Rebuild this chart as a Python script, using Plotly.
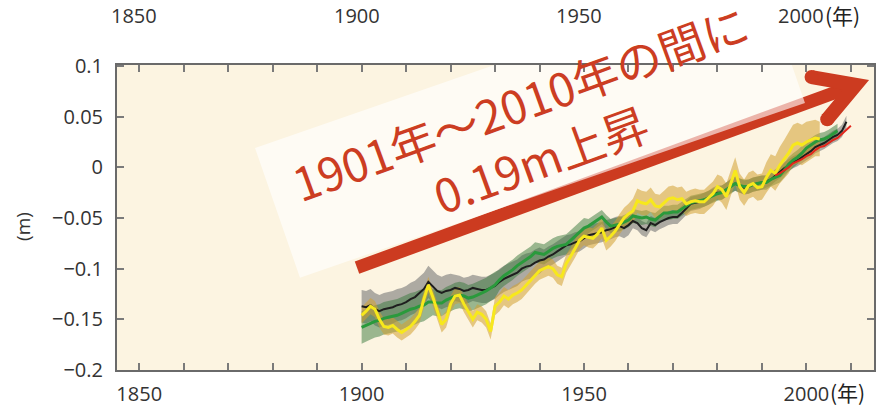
import plotly.graph_objects as go

# ---- sea-level series (m) ----
yellow_years = list(range(1900, 2004))
yellow_vals = [
    -0.146, -0.142, -0.137, -0.140, -0.150, -0.157, -0.158, -0.156, -0.160, -0.163,
    -0.160, -0.157, -0.152, -0.146, -0.130, -0.116, -0.128, -0.142, -0.155, -0.150,
    -0.135, -0.127, -0.126, -0.135, -0.143, -0.150, -0.143, -0.145, -0.150, -0.162,
    -0.137, -0.133, -0.127, -0.130, -0.126, -0.124, -0.121, -0.116, -0.111, -0.106,
    -0.102, -0.100, -0.098, -0.100, -0.106, -0.108, -0.095, -0.088, -0.080, -0.072,
    -0.068, -0.069, -0.070, -0.066, -0.060, -0.072, -0.068, -0.063, -0.056, -0.050,
    -0.046, -0.043, -0.033, -0.035, -0.036, -0.032, -0.038, -0.039, -0.035, -0.031,
    -0.030, -0.032, -0.031, -0.036, -0.034, -0.033, -0.034, -0.034, -0.030, -0.026,
    -0.019, -0.022, -0.029, -0.015, -0.003, -0.019, -0.025, -0.018, -0.016, -0.020,
    -0.019, -0.010, -0.003, -0.006, 0.002, 0.008, 0.014, 0.022, 0.024, 0.022,
    0.025, 0.027, 0.029, 0.028,
]
yellow_err = [
    0.008, 0.008, 0.008, 0.008, 0.008, 0.008, 0.008, 0.008, 0.008, 0.008,
    0.008, 0.008, 0.008, 0.008, 0.008, 0.008, 0.008, 0.008, 0.008, 0.008,
    0.008, 0.008, 0.008, 0.008, 0.008, 0.008, 0.008, 0.008, 0.008, 0.008,
    0.009, 0.009, 0.009, 0.009, 0.009, 0.009, 0.009, 0.009, 0.009, 0.009,
    0.009, 0.009, 0.009, 0.009, 0.009, 0.009, 0.009, 0.009, 0.009, 0.009,
    0.009, 0.010, 0.010, 0.010, 0.010, 0.010, 0.010, 0.010, 0.010, 0.010,
    0.010, 0.012, 0.012, 0.012, 0.012, 0.012, 0.012, 0.012, 0.012, 0.012,
    0.012, 0.012, 0.012, 0.012, 0.012, 0.012, 0.012, 0.012, 0.012, 0.012,
    0.012, 0.013, 0.013, 0.013, 0.013, 0.013, 0.013, 0.013, 0.013, 0.013,
    0.013, 0.015, 0.016, 0.017, 0.018, 0.019, 0.020, 0.020, 0.020, 0.020,
    0.020, 0.019, 0.018, 0.017,
]

black_years = list(range(1900, 2010))
black_vals = [
    -0.137, -0.138, -0.136, -0.140, -0.142, -0.140, -0.139, -0.138, -0.136, -0.135,
    -0.133, -0.130, -0.128, -0.124, -0.120, -0.113, -0.118, -0.122, -0.124, -0.122,
    -0.121, -0.119, -0.120, -0.122, -0.121, -0.119, -0.120, -0.121, -0.121, -0.119,
    -0.117, -0.113, -0.110, -0.108, -0.106, -0.104, -0.100, -0.098, -0.097, -0.094,
    -0.092, -0.091, -0.088, -0.086, -0.083, -0.080, -0.077, -0.076, -0.074, -0.073,
    -0.070, -0.067, -0.066, -0.065, -0.064, -0.062, -0.061, -0.059, -0.058, -0.060,
    -0.057, -0.053, -0.055, -0.060, -0.062, -0.055, -0.057, -0.054, -0.052, -0.050,
    -0.049, -0.049, -0.045, -0.040, -0.036, -0.035, -0.034, -0.032, -0.030, -0.027,
    -0.025, -0.025, -0.022, -0.018, -0.016, -0.018, -0.020, -0.019, -0.017, -0.016,
    -0.015, -0.014, -0.012, -0.008, -0.005, -0.001, 0.002, 0.005, 0.007, 0.010,
    0.013, 0.016, 0.020, 0.022, 0.024, 0.027, 0.030, 0.032, 0.036, 0.045,
]
black_err = [
    0.016, 0.016, 0.016, 0.016, 0.016, 0.016, 0.016, 0.016, 0.016, 0.016,
    0.016, 0.016, 0.016, 0.016, 0.016, 0.016, 0.016, 0.016, 0.016, 0.016,
    0.016, 0.013, 0.013, 0.013, 0.013, 0.013, 0.013, 0.013, 0.013, 0.013,
    0.013, 0.013, 0.013, 0.013, 0.013, 0.013, 0.013, 0.013, 0.013, 0.013,
    0.013, 0.010, 0.010, 0.010, 0.010, 0.010, 0.010, 0.010, 0.010, 0.010,
    0.010, 0.010, 0.010, 0.010, 0.010, 0.010, 0.010, 0.010, 0.010, 0.010,
    0.010, 0.007, 0.007, 0.007, 0.007, 0.007, 0.007, 0.007, 0.007, 0.007,
    0.007, 0.007, 0.007, 0.007, 0.007, 0.007, 0.007, 0.007, 0.007, 0.007,
    0.007, 0.007, 0.007, 0.007, 0.007, 0.007, 0.007, 0.007, 0.007, 0.007,
    0.007, 0.006, 0.006, 0.006, 0.006, 0.006, 0.006, 0.006, 0.006, 0.006,
    0.006, 0.006, 0.006, 0.006, 0.006, 0.006, 0.006, 0.006, 0.006, 0.006,
]

green_years = list(range(1900, 2008))
green_vals = [
    -0.158, -0.156, -0.154, -0.152, -0.151, -0.149, -0.148, -0.147, -0.146, -0.144,
    -0.142, -0.140, -0.139, -0.137, -0.136, -0.133, -0.133, -0.134, -0.134, -0.131,
    -0.129, -0.127, -0.126, -0.127, -0.129, -0.128, -0.126, -0.124, -0.122, -0.119,
    -0.116, -0.111, -0.107, -0.104, -0.101, -0.097, -0.094, -0.091, -0.088, -0.084,
    -0.085, -0.086, -0.083, -0.080, -0.078, -0.077, -0.076, -0.072, -0.068, -0.064,
    -0.060, -0.058, -0.055, -0.052, -0.049, -0.054, -0.058, -0.057, -0.056, -0.054,
    -0.052, -0.048, -0.049, -0.050, -0.049, -0.051, -0.052, -0.048, -0.045, -0.045,
    -0.044, -0.044, -0.041, -0.038, -0.035, -0.034, -0.033, -0.032, -0.030, -0.028,
    -0.026, -0.025, -0.022, -0.019, -0.016, -0.018, -0.019, -0.019, -0.017, -0.016,
    -0.015, -0.015, -0.012, -0.010, -0.008, -0.003, 0.003, 0.007, 0.010, 0.014,
    0.019, 0.022, 0.025, 0.027, 0.028, 0.030, 0.033, 0.036,
]
green_err = [
    0.016, 0.016, 0.016, 0.016, 0.016, 0.016, 0.016, 0.016, 0.016, 0.016,
    0.016, 0.016, 0.016, 0.016, 0.016, 0.016, 0.013, 0.013, 0.013, 0.013,
    0.013, 0.013, 0.013, 0.013, 0.013, 0.013, 0.013, 0.013, 0.013, 0.013,
    0.013, 0.010, 0.010, 0.010, 0.010, 0.010, 0.010, 0.010, 0.010, 0.010,
    0.010, 0.010, 0.010, 0.010, 0.010, 0.010, 0.010, 0.010, 0.010, 0.010,
    0.010, 0.007, 0.007, 0.007, 0.007, 0.007, 0.007, 0.007, 0.007, 0.007,
    0.007, 0.007, 0.007, 0.007, 0.007, 0.007, 0.007, 0.007, 0.007, 0.007,
    0.007, 0.007, 0.007, 0.007, 0.007, 0.007, 0.007, 0.007, 0.007, 0.007,
    0.007, 0.007, 0.007, 0.007, 0.007, 0.007, 0.007, 0.007, 0.007, 0.007,
    0.007, 0.007, 0.007, 0.007, 0.007, 0.007, 0.007, 0.007, 0.007, 0.007,
    0.007, 0.007, 0.007, 0.007, 0.007, 0.007, 0.007, 0.007,
]

red_years = list(range(1993, 2011))
red_vals = [
    -0.008, -0.006, -0.003, 0.000, 0.004, 0.006, 0.008, 0.011, 0.013, 0.017,
    0.020, 0.021, 0.024, 0.027, 0.029, 0.033, 0.037, 0.041,
]

# ---- axes ----
x_ticks = [1850, 1860, 1870, 1880, 1890, 1900, 1910, 1920, 1930, 1940,
           1950, 1960, 1970, 1980, 1990, 2000, 2010]
x_labels = ["1850", "", "", "", "", "1900", "", "", "", "",
            "1950", "", "", "", "", "2000", ""]
top_label_years = [1850, 1900, 1950, 2000]
y_ticks = [-0.2, -0.15, -0.1, -0.05, 0, 0.05, 0.1]
y_labels = ["\u22120.2", "\u22120.15", "\u22120.1", "\u22120.05", "0", "0.05", "0.1"]
year_unit = "(年)"
y_unit = "(m)"

headline = "1901年〜2010年の間に<br>0.19m上昇"

X_RANGE = [1845, 2015.2]
Y_RANGE = [-0.2, 0.101]
RED = "#cc3b20"
TICK_FONT = dict(family="Open Sans, Noto Sans, sans-serif", size=20, color="#333333")
CJK_FONT = "Noto Sans CJK JP"


def band(years, vals, err):
    upper = [v + e for v, e in zip(vals, err)]
    lower = [v - e for v, e in zip(vals, err)]
    return years + years[::-1], upper + lower[::-1]


fig = go.Figure()

for yrs, vals, err, fill in [
    (black_years, black_vals, black_err, "rgba(120,120,120,0.6)"),
    (green_years, green_vals, green_err, "rgba(55,120,60,0.5)"),
    (yellow_years, yellow_vals, yellow_err, "rgba(210,160,50,0.55)"),
]:
    bx, by = band(yrs, vals, err)
    fig.add_trace(go.Scatter(x=bx, y=by, fill="toself", fillcolor=fill,
                             line=dict(width=0), mode="lines",
                             hoverinfo="skip", showlegend=False))

for yrs, vals, color, w in [
    (black_years, black_vals, "#1e1e1e", 2),
    (green_years, green_vals, "#2a9a3c", 3),
    (yellow_years, yellow_vals, "#f7e81c", 3),
    (red_years, red_vals, "#e3261c", 2),
]:
    fig.add_trace(go.Scatter(x=yrs, y=vals, mode="lines",
                             line=dict(color=color, width=w),
                             showlegend=False))

shapes = [
    # arrow shaft
    dict(type="line", xref="x", yref="y", x0=1898.96, y0=-0.0990,
         x1=2011.14, y1=0.0814, line=dict(color=RED, width=13), layer="below"),
    # arrow head
    dict(type="path", xref="x", yref="y",
         path="M 2001.16,0.0891 L 2011.14,0.0814 L 2004.69,0.0475",
         line=dict(color=RED, width=14), layer="below"),
    dict(type="circle", xref="x", yref="y", xsizemode="pixel", ysizemode="pixel",
         xanchor=2001.16, yanchor=0.0891, x0=-7, x1=7, y0=-7, y1=7,
         fillcolor=RED, line=dict(width=0), layer="below"),
    dict(type="circle", xref="x", yref="y", xsizemode="pixel", ysizemode="pixel",
         xanchor=2004.69, yanchor=0.0475, x0=-7, x1=7, y0=-7, y1=7,
         fillcolor=RED, line=dict(width=0), layer="below"),
    # pale backing panel behind the headline
    dict(type="path", xref="x", yref="y",
         path="M 1886.14,-0.109 L 1876.03,0.0192 L 1989.56,0.1918 L 1999.68,0.0636 Z",
         fillcolor="rgba(255,255,255,0.62)", line=dict(width=0), layer="below"),
]

annotations = [
    dict(text=headline, x=1937.85, y=0.037, xref="x", yref="y",
         textangle=-20, showarrow=False, align="center",
         font=dict(family=CJK_FONT, size=46, color="#cc3d22")),
    dict(text=y_unit, x=-0.145, y=0.47, xref="paper", yref="paper",
         textangle=-90, showarrow=False,
         font=dict(family="Open Sans", size=19, color="#333")),
    dict(text=year_unit, x=2000, y=0, xref="x", yref="paper", xanchor="left",
         yanchor="middle", xshift=22, yshift=-22, showarrow=False,
         font=dict(family=CJK_FONT, size=21, color="#222")),
    dict(text=year_unit, x=2000, y=1, xref="x", yref="paper", xanchor="left",
         yanchor="middle", xshift=17, yshift=50, showarrow=False,
         font=dict(family=CJK_FONT, size=21, color="#222")),
]
for yr in top_label_years:
    annotations.append(dict(text=str(yr), x=yr, y=1, xref="x", yref="paper",
                            xanchor="center", yanchor="middle", xshift=-5,
                            yshift=50, showarrow=False, font=TICK_FONT))

fig.update_layout(
    width=883, height=406,
    margin=dict(l=117, r=9, t=65, b=36, autoexpand=False),
    paper_bgcolor="white",
    plot_bgcolor="#fcf4e1",
    shapes=shapes,
    annotations=annotations,
    xaxis=dict(range=X_RANGE, tickvals=x_ticks, ticktext=x_labels,
               ticks="inside", ticklen=7, tickwidth=1.5, tickcolor="#7a7a7a",
               showline=True, linecolor="#6a6a6a", linewidth=2, mirror="ticks",
               showgrid=False, zeroline=False, tickfont=TICK_FONT,
               ticklabelstandoff=5, automargin=False),
    yaxis=dict(range=Y_RANGE, tickvals=y_ticks, ticktext=y_labels,
               ticks="inside", ticklen=7, tickwidth=1.5, tickcolor="#7a7a7a",
               showline=True, linecolor="#6a6a6a", linewidth=2, mirror="ticks",
               showgrid=False, zeroline=False, tickfont=TICK_FONT,
               ticklabelstandoff=8, automargin=False),
)

fig.write_html("out.html")
